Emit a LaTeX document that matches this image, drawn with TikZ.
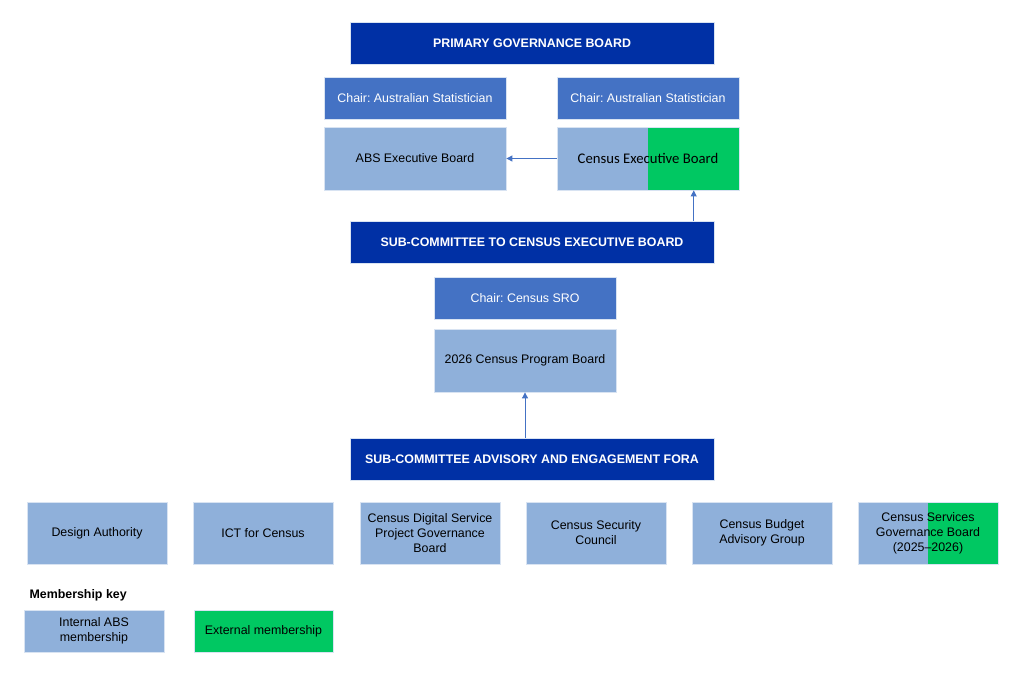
\documentclass[tikz,border=0pt]{standalone}
\usepackage{fontspec}
\setmainfont{Liberation Sans}
\newfontfamily\calibrifont{Carlito}
\definecolor{absnavy}{RGB}{0,48,165}
\definecolor{absblue}{RGB}{68,114,196}
\definecolor{abslight}{RGB}{143,176,218}
\definecolor{absgreen}{RGB}{0,200,98}
\usetikzlibrary{arrows.meta,positioning,calc}
\frenchspacing

\tikzset{
  box/.style={draw=white!65!abslight, line width=0.8pt, inner sep=2pt, align=center,
              font=\fontsize{12.4}{15}\selectfont},
  govbox/.style={box, fill=absnavy, text=white, font=\fontsize{12.4}{15}\selectfont\bfseries,
                 minimum width=364, minimum height=42},
  chairbox/.style={box, fill=absblue, text=white, minimum width=182, minimum height=42},
  boardbox/.style={box, fill=abslight, minimum width=182, minimum height=63},
  forumbox/.style={box, fill=abslight, minimum width=140, minimum height=62},
  keybox/.style={box, minimum width=140, minimum height=42},
  halfgreen/.style={path picture={\fill[absgreen] (path picture bounding box.north)
                    rectangle (path picture bounding box.south east);}},
  link/.style={absblue, line width=0.9pt, -{Triangle[length=6pt,width=6pt]}}
}

\begin{document}
\begin{tikzpicture}[x=1pt, y=-1pt]
\useasboundingbox (0,0) rectangle (1024,675);

% --- Primary governance ---
\node[govbox] (gov) at (532,43) {PRIMARY GOVERNANCE BOARD};
\node[chairbox] (chairabs) at (415,98) {Chair: Australian Statistician};
\node[chairbox] (chaircen) at (648,98) {Chair: Australian Statistician};
\node[boardbox] (absexec) at (415,158.5) {ABS Executive Board};
\node[boardbox, halfgreen, font=\calibrifont\fontsize{14.7}{17}\selectfont]
      (cenexec) at (648,158.5) {Census Executive Board};
\draw[link] (cenexec.west) -- (absexec.east);

% --- Sub-committee to CEB ---
\node[govbox] (subceb) at (532,242) {SUB-COMMITTEE TO CENSUS EXECUTIVE BOARD};
\coordinate (cenfoot) at ($(cenexec.south)!0.5!(cenexec.south east)$);
\draw[link] (subceb.north -| cenfoot) -- (cenfoot);
\node[chairbox] (chairsro) at (525,298) {Chair: Census SRO};
\node[boardbox] (progboard) at (525,360.5) {2026 Census Program Board};

% --- Advisory and engagement fora ---
\node[govbox] (subfora) at (532,459) {SUB-COMMITTEE ADVISORY AND ENGAGEMENT FORA};
\draw[link] (subfora.north -| progboard.south) -- (progboard.south);

\node[forumbox] (design) at (97,533) {Design Authority};
\node[forumbox] (ict) at (263,533) {ICT for Census};
\node[forumbox] (digital) at (430,533) {Census Digital Service\\Project Governance\\Board};
\node[forumbox] (security) at (596,533) {Census Security\\Council};
\node[forumbox] (budget) at (762,533) {Census Budget\\Advisory Group};
\node[forumbox, halfgreen] (services) at (928,533) {Census Services\\Governance Board\\(2025--2026)};

% --- Membership key ---
\node[anchor=west, font=\fontsize{12.4}{15}\selectfont\bfseries] (keytitle) at (26,595) {Membership key};
\node[keybox, fill=abslight] (keyint) at (94,631) {Internal ABS\\membership};
\node[keybox, fill=absgreen, minimum width=139] (keyext) at (263.5,631) {External membership};

\end{tikzpicture}
\end{document}
